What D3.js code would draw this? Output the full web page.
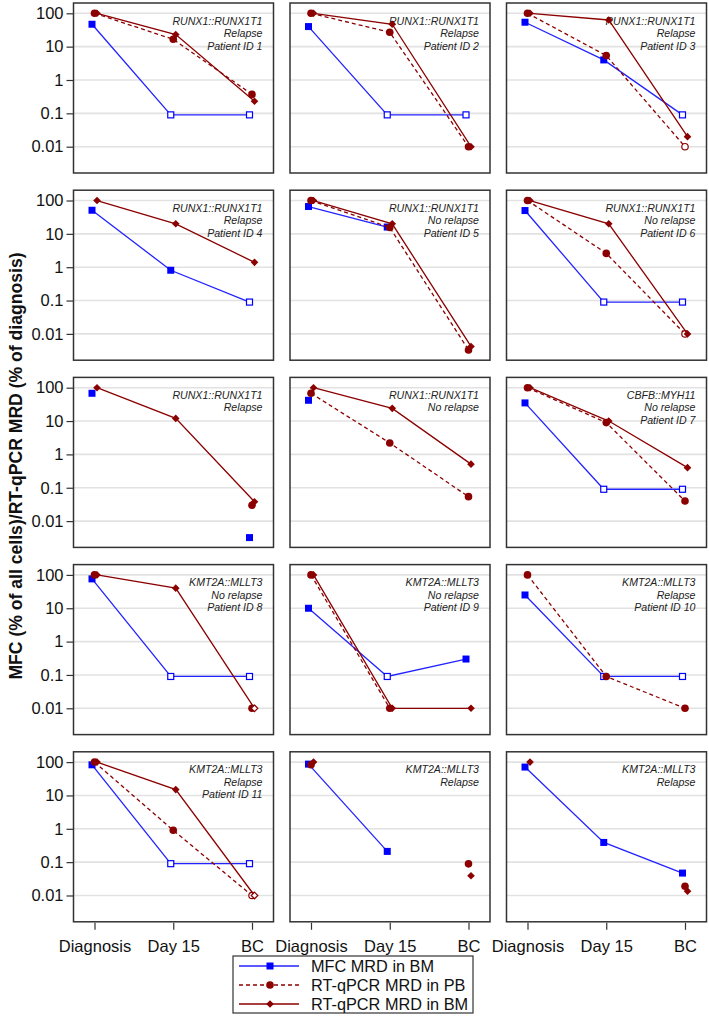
<!DOCTYPE html>
<html><head><meta charset="utf-8">
<script src="https://cdn.jsdelivr.net/npm/d3@7"></script>
<style>body{margin:0;background:#fff}svg{display:block}</style>
</head><body>
<script>
const categories = ["Diagnosis", "Day 15", "BC"];
const yTickValues = [0.01, 0.1, 1, 10, 100];
const yTickLabels = ["0.01", "0.1", "1", "10", "100"];

const geneLabels = ["RUNX1::RUNX1T1","RUNX1::RUNX1T1","RUNX1::RUNX1T1","RUNX1::RUNX1T1","RUNX1::RUNX1T1","RUNX1::RUNX1T1","RUNX1::RUNX1T1","RUNX1::RUNX1T1","CBFB::MYH11","KMT2A::MLLT3","KMT2A::MLLT3","KMT2A::MLLT3","KMT2A::MLLT3","KMT2A::MLLT3","KMT2A::MLLT3"];
const relapseLabels = ["Relapse","Relapse","Relapse","Relapse","No relapse","No relapse","Relapse","No relapse","No relapse","No relapse","No relapse","Relapse","Relapse","Relapse","Relapse"];
const patientLabels = ["Patient ID 1","Patient ID 2","Patient ID 3","Patient ID 4","Patient ID 5","Patient ID 6","","","Patient ID 7","Patient ID 8","Patient ID 9","Patient ID 10","Patient ID 11","",""];

// MFC MRD in BM (% of all cells)
const mfcValues = [[47,0.09,0.09],[40,0.09,0.09],[54,4.0,0.09],[51,0.81,0.09],[66,16,null],[50,0.09,0.09],[68,null,0.0032],[42,null,null],[35,0.09,0.09],[76,0.09,0.09],[10,0.09,0.3],[25,0.09,0.09],[83,0.09,0.09],[87,0.21,null],[71,0.39,0.047]];
const mfcOpen = [[0,1,1],[0,1,1],[0,0,1],[0,0,1],[0,0,0],[0,1,1],[0,0,0],[0,0,0],[0,1,1],[0,1,1],[0,1,0],[0,1,1],[0,1,1],[0,0,0],[0,0,0]];
// RT-qPCR MRD in PB (% of diagnosis)
const pbValues = [[100,16.6,0.37],[100,27,0.01],[100,5.4,0.01],[null,null,null],[100,15.5,0.0033],[100,2.6,0.01],[null,null,0.03],[68,2.2,0.054],[100,9,0.04],[100,null,0.01],[100,0.01,null],[100,0.09,0.01],[100,0.9,0.01],[83,null,0.089],[null,null,0.019]];
const pbOpen = [[0,0,0],[0,0,0],[0,0,1],[0,0,0],[0,0,0],[0,0,1],[0,0,0],[0,0,0],[0,0,0],[0,0,0],[0,0,0],[0,0,0],[0,0,1],[0,0,0],[0,0,0]];
// RT-qPCR MRD in BM (% of diagnosis)
const bmValues = [[100,23,0.23],[100,47,0.01],[100,63,0.02],[100,20,1.4],[100,20,0.0042],[100,20,0.01],[100,12,0.038],[100,24,0.51],[100,10,0.4],[100,40,0.01],[100,0.01,0.01],[null,null,null],[100,15,0.01],[100,null,0.039],[100,null,0.0135]];
const bmOpen = [[0,0,0],[0,0,0],[0,0,0],[0,0,0],[0,0,0],[0,0,0],[0,0,0],[0,0,0],[0,0,0],[0,0,1],[0,0,0],[0,0,0],[0,0,1],[0,0,0],[0,0,0]];

const legendLabels = ["MFC MRD in BM", "RT-qPCR MRD in PB", "RT-qPCR MRD in BM"];

const BLUE = "#0000ff", BLUE_LINE = "#2323ff", RED = "#8b0000";
const W = 709, H = 1017;
const colX = [73.5, 290, 506.5], boxW = 200;
const rowY0 = 3, rowStep = 187.2, boxH = 170;
const FONT = "'Liberation Sans', Arial, sans-serif";

const svg = d3.select("body").append("svg").attr("width", W).attr("height", H)
  .style("font-family", FONT);

const x = d3.scalePoint().domain(categories).range([21, 178.5]);
const y = d3.scaleLog().domain([0.001626, 203.7]).range([boxH, 0]);

const series = [
  {vals: mfcValues, open: mfcOpen, color: BLUE, line: BLUE_LINE, dash: null, dx: -2.5, shape: "square"},
  {vals: pbValues, open: pbOpen, color: RED, line: RED, dash: "4,3", dx: 0, shape: "circle"},
  {vals: bmValues, open: bmOpen, color: RED, line: RED, dash: null, dx: 2.5, shape: "diamond"}
];

function drawMarker(g, shape, cx, cy, color, open) {
  const fill = open ? "#fff" : color;
  if (shape === "square") {
    const s = open ? 6 : 7;
    g.append("rect").attr("x", cx - s/2).attr("y", cy - s/2).attr("width", s).attr("height", s)
      .attr("fill", fill).attr("stroke", color).attr("stroke-width", open ? 1.2 : 0);
  } else if (shape === "circle") {
    g.append("circle").attr("cx", cx).attr("cy", cy).attr("r", open ? 3.2 : 3.8)
      .attr("fill", fill).attr("stroke", color).attr("stroke-width", open ? 1.2 : 0);
  } else {
    const a = open ? 3.3 : 3.8, b = open ? 3.3 : 3.8;
    g.append("path").attr("d", `M${cx},${cy-b}L${cx+a},${cy}L${cx},${cy+b}L${cx-a},${cy}Z`)
      .attr("fill", fill).attr("stroke", color).attr("stroke-width", open ? 1.2 : 0);
  }
}

for (let p = 0; p < 15; p++) {
  const r = Math.floor(p / 3), c = p % 3;
  const g = svg.append("g").attr("transform", `translate(${colX[c]},${rowY0 + r * rowStep})`);
  // gridlines
  g.selectAll("line.grid").data(yTickValues).join("line").attr("class", "grid")
    .attr("x1", 0).attr("x2", boxW).attr("y1", d => y(d)).attr("y2", d => y(d))
    .attr("stroke", "#e2e2e2").attr("stroke-width", 1.6);
  // annotation
  const lines = [geneLabels[p], relapseLabels[p], patientLabels[p]].filter(s => s);
  g.selectAll("text.ann").data(lines).join("text").attr("class", "ann")
    .attr("x", boxW - 11).attr("y", (d, i) => 21.5 + i * 12.6)
    .attr("text-anchor", "end").attr("font-style", "italic").attr("font-size", 10.6)
    .attr("fill", "#222").text(d => d);
  // series
  series.forEach(s => {
    const vals = s.vals[p];
    const pts = categories.map((cat, i) => ({cat, v: vals[i], open: s.open[p][i]}));
    const line = d3.line().defined(d => d.v != null)
      .x(d => x(d.cat) + s.dx).y(d => y(d.v));
    g.append("path").datum(pts).attr("d", line).attr("fill", "none")
      .attr("stroke", s.line).attr("stroke-width", 1.3)
      .attr("stroke-dasharray", s.dash);
    pts.filter(d => d.v != null).forEach(d => drawMarker(g, s.shape, x(d.cat) + s.dx, y(d.v), s.color, d.open));
  });
  // box
  g.append("rect").attr("x", 0).attr("y", 0).attr("width", boxW).attr("height", boxH)
    .attr("fill", "none").attr("stroke", "#333").attr("stroke-width", 1.5);
  // y axis on first column
  if (c === 0) {
    const ax = g.append("g").call(d3.axisLeft(y).tickValues(yTickValues)
      .tickFormat((d, i) => yTickLabels[i]).tickSize(7).tickPadding(3));
    ax.select(".domain").remove();
    ax.selectAll("line").attr("stroke", "#333").attr("stroke-width", 1.2);
    ax.selectAll("text").attr("font-size", 16.5).attr("font-family", FONT).attr("fill", "#111");
  }
  if (r === 4) {
    const ax = g.append("g").attr("transform", `translate(0,${boxH + 1})`)
      .call(d3.axisBottom(x).tickSize(7).tickPadding(10));
    ax.select(".domain").remove();
    ax.selectAll("line").attr("stroke", "#333").attr("stroke-width", 1.2);
    ax.selectAll("text").attr("font-size", 16.5).attr("font-family", FONT).attr("fill", "#111");
  }
}

// y title
svg.append("text").attr("transform", "translate(22,466) rotate(-90)")
  .attr("text-anchor", "middle").attr("font-weight", "bold").attr("font-size", 17.6)
  .attr("fill", "#111").text("MFC (% of all cells)/RT-qPCR MRD (% of diagnosis)");

// legend
const lg = svg.append("g").attr("transform", "translate(233,956)");
lg.append("rect").attr("width", 240).attr("height", 57).attr("fill", "#fff")
  .attr("stroke", "#333").attr("stroke-width", 1.2);
legendLabels.forEach((lab, i) => {
  const s = series[i];
  const yy = 10 + i * 19;
  lg.append("line").attr("x1", 6).attr("x2", 66).attr("y1", yy).attr("y2", yy)
    .attr("stroke", s.line).attr("stroke-width", 1.3).attr("stroke-dasharray", s.dash);
  drawMarker(lg, s.shape, 37, yy, s.color, false);
  lg.append("text").attr("x", 78).attr("y", yy + 6).attr("font-size", 16.3)
    .attr("fill", "#111").text(lab);
});
</script>
</body></html>
